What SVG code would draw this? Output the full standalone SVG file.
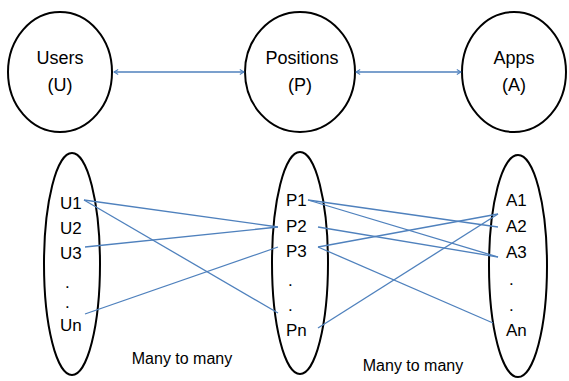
<svg xmlns="http://www.w3.org/2000/svg" width="569" height="381" viewBox="0 0 569 381">
  <style>
    .ent { fill: #ffffff; stroke: #000000; stroke-width: 2; }
    .lbl { font-family: "Liberation Sans", Arial, sans-serif; font-size: 18px; fill: #000000; text-anchor: middle; }
    .item { font-family: "Liberation Sans", Arial, sans-serif; font-size: 17px; fill: #000000; }
    .note { font-family: "Liberation Sans", Arial, sans-serif; font-size: 16px; fill: #000000; text-anchor: middle; }
    .link { stroke: #4f81bd; stroke-width: 1.3; fill: none; }
    .rel { stroke: #4f81bd; stroke-width: 1.5; fill: none; marker-start: url(#chev); marker-end: url(#chev); }
  </style>
  <defs>
    <marker id="chev" viewBox="0 0 10 10" refX="9" refY="5" markerWidth="7" markerHeight="7" orient="auto-start-reverse" markerUnits="userSpaceOnUse">
      <polyline points="3,1.5 9,5 3,8.5" fill="none" stroke="#4f81bd" stroke-width="1.5"/>
    </marker>
  </defs>

  <!-- entity overview -->
  <g id="users">
    <ellipse class="ent" cx="60" cy="72" rx="52" ry="60"/>
    <text class="lbl" x="60" y="64">Users</text>
    <text class="lbl" x="60" y="91">(U)</text>
  </g>
  <g id="positions">
    <ellipse class="ent" cx="300" cy="72" rx="55" ry="60"/>
    <text class="lbl" x="302" y="64">Positions</text>
    <text class="lbl" x="300" y="91">(P)</text>
  </g>
  <g id="apps">
    <ellipse class="ent" cx="514" cy="72" rx="52" ry="60"/>
    <text class="lbl" x="514" y="64">Apps</text>
    <text class="lbl" x="514" y="91">(A)</text>
  </g>

  <!-- member sets -->
  <g id="user-set">
    <ellipse class="ent" cx="72" cy="264" rx="28" ry="111"/>
    <text class="item" x="60" y="209">U1</text>
    <text class="item" x="60" y="234">U2</text>
    <text class="item" x="60" y="259">U3</text>
    <text class="item" x="65" y="288">.</text>
    <text class="item" x="65" y="308">.</text>
    <text class="item" x="60" y="331">Un</text>
  </g>
  <g id="position-set">
    <ellipse class="ent" cx="300" cy="263" rx="28" ry="111"/>
    <text class="item" x="286" y="206">P1</text>
    <text class="item" x="286" y="232">P2</text>
    <text class="item" x="286" y="257">P3</text>
    <text class="item" x="288" y="286">.</text>
    <text class="item" x="288" y="311">.</text>
    <text class="item" x="286" y="336">Pn</text>
  </g>
  <g id="app-set">
    <ellipse class="ent" cx="518" cy="266" rx="29" ry="111"/>
    <text class="item" x="506" y="206">A1</text>
    <text class="item" x="506" y="232">A2</text>
    <text class="item" x="506" y="258">A3</text>
    <text class="item" x="509" y="285">.</text>
    <text class="item" x="509" y="311">.</text>
    <text class="item" x="506" y="336">An</text>
  </g>

  <text class="note" x="182" y="364">Many to many</text>
  <text class="note" x="413" y="371">Many to many</text>

  <!-- connectors -->
  <g id="connectors">
    <line class="rel" x1="114" y1="72" x2="244" y2="72"/>
    <line class="rel" x1="356" y1="72" x2="461" y2="72"/>

    <line class="link" x1="84" y1="200" x2="278" y2="227"/>
    <line class="link" x1="84" y1="200" x2="278" y2="313"/>
    <line class="link" x1="85" y1="247" x2="278" y2="227"/>
    <line class="link" x1="85" y1="314" x2="278" y2="247"/>

    <line class="link" x1="308" y1="200" x2="498" y2="227"/>
    <line class="link" x1="308" y1="200" x2="498" y2="257"/>
    <line class="link" x1="318" y1="227" x2="498" y2="257"/>
    <line class="link" x1="318" y1="247" x2="498" y2="214"/>
    <line class="link" x1="318" y1="247" x2="493" y2="323"/>
    <line class="link" x1="318" y1="328" x2="498" y2="214"/>
  </g>
</svg>
